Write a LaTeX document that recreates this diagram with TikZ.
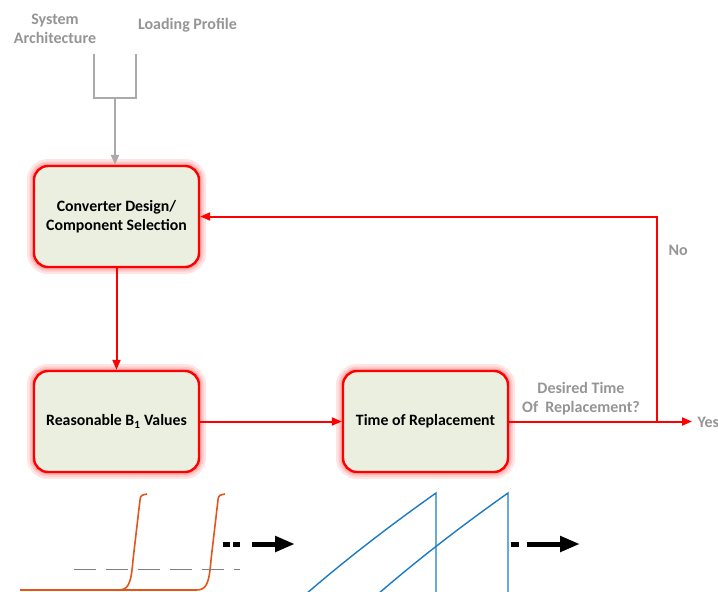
\documentclass[tikz,border=0pt]{standalone}
\usepackage{fontspec}
\setmainfont{Carlito}
\usetikzlibrary{arrows.meta}
\definecolor{boxfill}{HTML}{EBEFDF}
\definecolor{lblgray}{HTML}{959595}
\definecolor{wiregray}{HTML}{AAAAAA}
\definecolor{curveorange}{HTML}{E0561B}
\definecolor{sawblue}{HTML}{1B7BC4}
\tikzset{
  procbox/.style={draw=red, line width=2.4pt, fill=boxfill, rounded corners=14pt,
    minimum width=165pt, minimum height=101pt, align=center,
    font=\fontsize{15.8}{19}\selectfont\bfseries,
    preaction={draw=red!30, line width=14pt, opacity=0.35},
    preaction={draw=red!35, line width=9pt, opacity=0.45},
    preaction={draw=red!40, line width=5pt, opacity=0.6}},
  lbl/.style={text=lblgray, font=\fontsize{16}{19}\selectfont\bfseries, align=center},
  redline/.style={draw=red, line width=2pt},
  redarrow/.style={redline, -{Triangle[length=10pt,width=8pt]}},
  grayline/.style={draw=wiregray, line width=2pt},
  grayarrow/.style={grayline, -{Triangle[length=10pt,width=8pt]}},
  dotarrow/.style={draw=black, line width=5pt, -{Triangle[length=20pt,width=15pt]}},
}
\begin{document}
\begin{tikzpicture}[x=1pt,y=-1pt]
\useasboundingbox (0,0) rectangle (718,592);
% nodes
\node[procbox] (conv) at (116.5,216.5) {Converter Design/\\Component Selection};
\node[procbox] (bval) at (116.5,421.5) {Reasonable B$_{\mathbf 1}$ Values};
\node[procbox] (repl) at (425.5,421.5) {Time of Replacement};
\node[lbl] (sysarch) at (55,29) {System\\Architecture};
\node[lbl] (loadp) at (187.5,25) {Loading Profile};
\node[lbl] (desired) at (581,399) {Desired Time\\Of\ \ Replacement?};
\node[lbl, anchor=west] (no) at (665,250) {No};
\node[lbl, anchor=west] (yes) at (694,422) {Yes};
% gray input wires
\coordinate (sa) at (94,54);
\coordinate (lp) at (136,54);
\coordinate (merge) at (115,98);
\draw[grayline] (sa) -- (94,98) -- (136,98) -- (lp);
\draw[grayarrow] (merge) -- (merge |- conv.north);
% red flow
\draw[redarrow] (conv.south) -- (bval.north);
\draw[redarrow] (bval.east) -- (repl.west);
\coordinate (split) at (657,421.5);
\coordinate (yesend) at (692,421.5);
\draw[redarrow] (repl.east) -- (yesend);
\draw[redarrow] (split) |- (conv.east);
% orange curves
\draw[curveorange, line width=1.6pt]
  (20,590) -- (118,590) .. controls (128,590) and (131,585) .. (133,560)
  -- (140,500) .. controls (140.5,495) and (142,495) .. (147,494);
\draw[curveorange, line width=1.6pt]
  (118,590) -- (196,590) .. controls (206,590) and (209,585) .. (211,560)
  -- (218,500) .. controls (218.5,495) and (220,495) .. (225,494);
\draw[gray, line width=0.7pt, dash pattern=on 22pt off 10pt] (74,569) -- (240,569);
% blue sawtooth
\draw[sawblue, line width=1.4pt] (306,594) .. controls (350,556) and (395,522) .. (436,493) -- (436,594);
\draw[sawblue, line width=1.4pt] (378,594) .. controls (422,556) and (467,522) .. (508,493) -- (508,594);
% black dotted arrows
\coordinate (d1s) at (223,544);
\coordinate (d1e) at (295,544);
\draw[dotarrow, dash pattern=on 7pt off 3pt on 7pt off 12pt on 100pt off 0pt] (d1s) -- (d1e);
\coordinate (d2s) at (511,544);
\coordinate (d2e) at (580,544);
\draw[dotarrow, dash pattern=on 8pt off 8pt on 100pt off 0pt] (d2s) -- (d2e);
\end{tikzpicture}
\end{document}
